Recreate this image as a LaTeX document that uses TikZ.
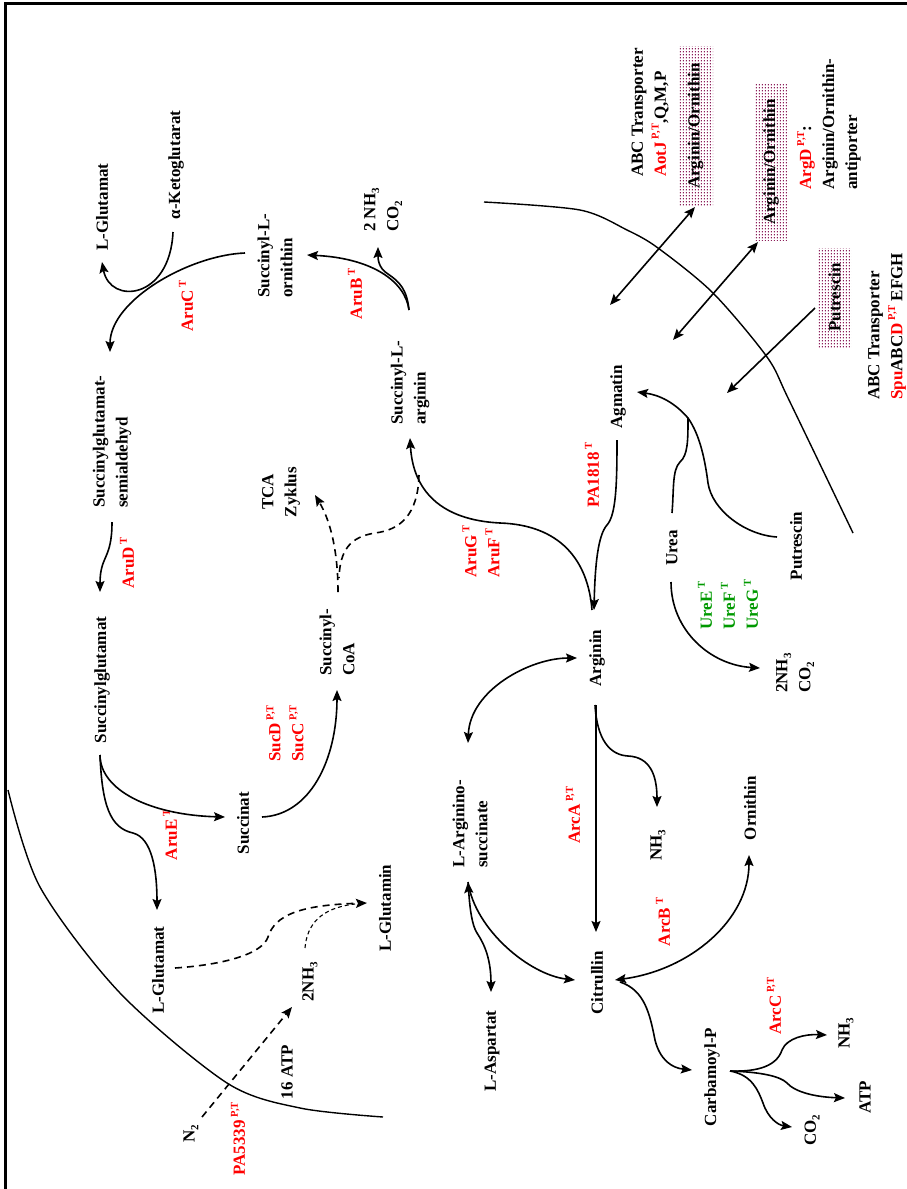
\documentclass[tikz,border=0pt]{standalone}
\usepackage{fontspec}
\setmainfont{Liberation Serif}
\usetikzlibrary{arrows.meta,patterns,patterns.meta,calc}
\definecolor{ured}{RGB}{255,0,0}
\definecolor{ugreen}{RGB}{0,153,0}
\definecolor{boxc}{RGB}{140,30,90}
\tikzdeclarepattern{
  name=bdots,
  type=uncolored,
  bounding box={(0pt,0pt) and (3.3pt,3.3pt)},
  tile size={(3.3pt,3.3pt)},
  code={
    \pgfpathrectangle{\pgfqpoint{0.9pt}{0.9pt}}{\pgfqpoint{1.3pt}{1.3pt}}
    \pgfusepath{fill}
  }
}
\newcommand{\supx}[1]{\,\raisebox{0.42em}{\fontsize{10.5}{11}\selectfont #1}}
\newcommand{\subx}[1]{\raisebox{-0.22em}{\fontsize{11}{11}\selectfont #1}}
\begin{document}
\begin{tikzpicture}[x=1pt,y=-1pt,
  lbl/.style={rotate=90, font=\fontsize{17}{23}\selectfont\bfseries, inner sep=0pt, align=left},
  lblw/.style={lbl, anchor=west},
  enz/.style={text=ured},
  grn/.style={text=ugreen},
  ln/.style={line width=1.6pt},
  ar/.style={line width=1.6pt, -{Stealth[length=11pt,width=9pt,inset=2pt]}},
  dar/.style={line width=1.6pt, {Stealth[length=11pt,width=9pt,inset=2pt]}-{Stealth[length=11pt,width=9pt,inset=2pt]}},
  dsh/.style={dash pattern=on 7pt off 5pt},
  thindsh/.style={line width=1.1pt, dash pattern=on 4pt off 3pt},
  obox/.style={lbl, pattern=bdots, pattern color=boxc}
]
\useasboundingbox (0,0) rectangle (907,1189);
% frame
\draw[line width=3pt] (5.5,1189) -- (5.5,3.5) -- (907,3.5);
% membranes
\draw[line width=1.4pt] plot[smooth] coordinates {(484,202) (580,210) (627,230) (658,248) (713,293) (767,357) (789,400) (853,533)};
\draw[line width=1.4pt] plot[smooth] coordinates {(8,790) (40,887) (120,993) (227,1083) (300,1108) (383,1117)};

% nodes
\node[lbl] (lgluA) at (102,207) {L-Glutamat};
\node[lbl] (akg) at (176,165) {α-Ketoglutarat};
\node[lblw] (sorn) at (275,298) {Succinyl-L-\\ornithin};
\node[lblw] (nh3co2a) at (383,232) {2 NH\subx{3}\\CO\subx{2}};
\node[lbl,enz] (aruC) at (186,306) {AruC\supx{T}};
\node[lbl,enz] (aruB) at (355,294) {AruB\supx{T}};
\node[lblw] (ssa) at (112,508) {Succinylglutamat-\\semialdehyd};
\node[lbl,enz] (aruD) at (127,563) {AruD\supx{T}};
\node[lbl] (sglu) at (102,680) {Succinylglutamat};
\node[lblw] (sarg) at (410,425) {Succinyl-L-\\arginin};
\node[lbl,align=center] (tca) at (281,492) {TCA\\Zyklus};
\node[lblw] (scoa) at (337,676) {Succinyl-\\CoA};
\node[lblw,enz] (sucdc) at (285,762) {SucD\supx{P,T}\\SucC\supx{P,T}};
\node[lbl] (succinat) at (243,823) {Succinat};
\node[lbl,enz] (aruE) at (170,835) {AruE\supx{T}};
\node[lbl] (lgluB) at (158,970) {L-Glutamat};
\node[lbl] (lgln) at (385,908) {L-Glutamin};
\node[lbl] (nh3b) at (310,982) {2NH\subx{3}};
\node[lbl] (atp16) at (287,1072) {16 ATP};
\node[lbl] (n2) at (191,1134) {N\subx{2}};
\node[lbl,enz] (pa5339) at (238,1139) {PA5339\supx{P,T}};
\node[lblw,enz] (arugf) at (481,578) {AruG\supx{T}\\AruF\supx{T}};
\node[lbl] (arginin) at (597,658) {Arginin};
\node[lbl,enz] (pa1818) at (592,475) {PA1818\supx{T}};
\node[lbl] (agmatin) at (618,397) {Agmatin};
\node[lbl] (urea) at (672,548) {Urea};
\node[lbl] (putrescin) at (796,546) {Putrescin};
\node[lblw,grn] (ureefg) at (728,630) {UreE\supx{T}\\UreF\supx{T}\\UreG\supx{T}};
\node[lblw] (nh3co2b) at (795,693) {2NH\subx{3}\\CO\subx{2}};
\node[lblw] (largsuc) at (470,868) {L-Arginino-\\succinate};
\node[lbl,enz] (arcA) at (573,815) {ArcA\supx{P,T}};
\node[lbl] (nh3c) at (658,845) {NH\subx{3}};
\node[lbl] (ornithin) at (750,808) {Ornithin};
\node[lbl] (lasp) at (492,1051) {L-Aspartat};
\node[lbl] (citrullin) at (597,983) {Citrullin};
\node[lbl,enz] (arcB) at (663,922) {ArcB\supx{T}};
\node[lbl] (carbp) at (712,1077) {Carbamoyl-P};
\node[lbl,enz] (arcC) at (774,1006) {ArcC\supx{P,T}};
\node[lbl] (nh3d) at (846,1033) {NH\subx{3}};
\node[lbl] (atp) at (865,1097) {ATP};
\node[lbl] (co2) at (812,1130) {CO\subx{2}};
% transporters
\node[lblw] (abc1) at (650,177) {ABC Transporter\\{\color{ured}AotJ\supx{P,T}},Q,M,P};
\node[obox, minimum width=160pt, minimum height=35pt] (box1) at (695.5,126) {Arginin/Ornithin};
\node[obox, minimum width=156pt, minimum height=34pt] (box2) at (771,162) {Arginin/Ornithin};
\node[lblw] (argd) at (829,190) {{\color{ured}ArgD\supx{P,T}}:\\Arginin/Ornithin-\\antiporter};
\node[obox, minimum width=99pt, minimum height=33pt] (box3) at (834.5,297.5) {Putrescin};
\node[lblw] (abc2) at (887,400) {ABC Transporter\\{\color{ured}Spu}ABC{\color{ured}D\supx{P,T}} EFGH};

\coordinate (aotjin) at (610,305);
\coordinate (argdin) at (673,340);
\coordinate (spuin) at (727,393);
\coordinate (jA) at (688,418);

% connectors
\draw[ar] ($(sorn.west)+(-30,-45)$) .. controls (190,255) and (110,300) .. ($(ssa.west)+(-2,-156)$);
\draw[ar] ($(akg)+(-3,67)$) .. controls (170,300) and (110,305) .. ($(lgluA)+(0,55)$);
\draw[ar] ($(sarg.west)+(-1,-115)$) .. controls (405,280) and (370,258) .. ($(sorn.west)+(32,-43)$);
\draw[ar] ($(sarg.west)+(-1,-115)$) .. controls (407,290) and (400,282) .. (388,274) .. controls (378,268) and (378,258) .. ($(nh3co2a.west)+(-5,15)$);
\draw[ar] ($(ssa.west)+(0,14)$) .. controls (112,560) and (100,555) .. ($(sglu)+(-2,-88)$);
\draw[ar] ($(sglu)+(-2,75)$) .. controls (100,790) and (150,815) .. ($(succinat)+(-18,-6)$);
\draw[ar] ($(sglu)+(-2,75)$) .. controls (102,805) and (110,828) .. (133,833) .. controls (152,838) and (157,870) .. ($(lgluB)+(-1,-60)$);
\draw[ar] ($(succinat)+(19,-6)$) .. controls (310,815) and (337,760) .. ($(scoa.west)+(0,14)$);
\draw[ar,dsh] ($(scoa.west)+(1,-84)$) .. controls (338,550) and (330,520) .. ($(tca)+(34,3)$);
\draw[ln,dsh] ($(sarg.west)+(9,50)$) .. controls (418,515) and (400,530) .. (375,533) .. controls (350,537) and (340,550) .. ($(scoa.west)+(2,-98)$);
\draw[ar] ($(arginin)+(-5,-48)$) .. controls (588,560) and (560,525) .. (500,523) .. controls (440,520) and (413,490) .. ($(sarg.west)+(0,13)$);
\draw[ar] ($(agmatin)+(-1,43)$) .. controls (617,485) and (616,515) .. (607,525) .. controls (598,535) and (595,565) .. ($(arginin)+(-3,-48)$);
\draw[ar] ($(urea)+(0,-35)$) .. controls (674,490) and (672,470) .. (680,462) .. controls (688,455) and (688,440) .. (jA) .. controls (675,403) and (660,395) .. ($(agmatin)+(19,-5)$);
\draw[ln] ($(putrescin)+(-19,-9)$) .. controls (745,535) and (712,510) .. (708,483) .. controls (705,460) and (700,435) .. (jA);
\draw[ar] ($(urea)+(-1,34)$) .. controls (671,630) and (710,665) .. ($(nh3co2b.west)+(-35,-25)$);
\draw[dar] ($(arginin)+(-20,0)$) .. controls (530,658) and (470,690) .. ($(largsuc.west)+(-2,-125)$);
\draw[ar] ($(arginin)+(-1,47)$) -- ($(citrullin)+(-1,-51)$);
\draw[ar] ($(arginin)+(-2,47)$) .. controls (597,740) and (610,755) .. (628,756) .. controls (650,757) and (657,775) .. ($(nh3c)+(-1,-38)$);
\draw[dar] ($(largsuc.west)+(-2,14)$) .. controls (470,910) and (472,925) .. (477,933) .. controls (485,945) and (491,960) .. ($(lasp)+(-1,-59)$);
\draw[ar] ($(largsuc.west)+(-2,14)$) .. controls (475,930) and (530,975) .. ($(citrullin)+(-22,-3)$);
\draw[dar] ($(citrullin)+(18,-3)$) .. controls (690,970) and (749,920) .. ($(ornithin)+(-1,47)$);
\draw[ar] ($(citrullin)+(23,-1)$) .. controls (645,990) and (650,1015) .. (655,1040) .. controls (660,1060) and (672,1068) .. ($(carbp)+(-20,-7)$);
\draw[ar] ($(carbp)+(18,-6)$) .. controls (760,1072) and (777,1065) .. (782,1050) .. controls (787,1038) and (805,1034) .. ($(nh3d)+(-19,2)$);
\draw[ar] ($(carbp)+(18,-6)$) .. controls (760,1072) and (780,1076) .. (787,1083) .. controls (795,1092) and (815,1097) .. ($(atp)+(-20,1)$);
\draw[ar] ($(carbp)+(18,-6)$) .. controls (752,1075) and (758,1090) .. (763,1103) .. controls (768,1118) and (778,1125) .. ($(co2)+(-20,-3)$);
\draw[ar,dsh] ($(lgluB)+(17,-2)$) .. controls (220,965) and (262,955) .. (268,937) .. controls (275,915) and (300,905) .. ($(lgln)+(-18,-5)$);
\draw[thindsh] ($(nh3b)+(-5,-34)$) .. controls (307,925) and (320,908) .. ($(lgln)+(-30,-4)$);
\draw[ar,dsh] ($(n2)+(11,-17)$) -- ($(nh3b)+(-18,25)$);
\draw[dar] ($(box1)+(-0.5,81)$) -- (aotjin);
\draw[dar] ($(box2)+(-13,80)$) -- (argdin);
\draw[ar] ($(box3)+(-19.5,10.5)$) -- (spuin);
\end{tikzpicture}
\end{document}
